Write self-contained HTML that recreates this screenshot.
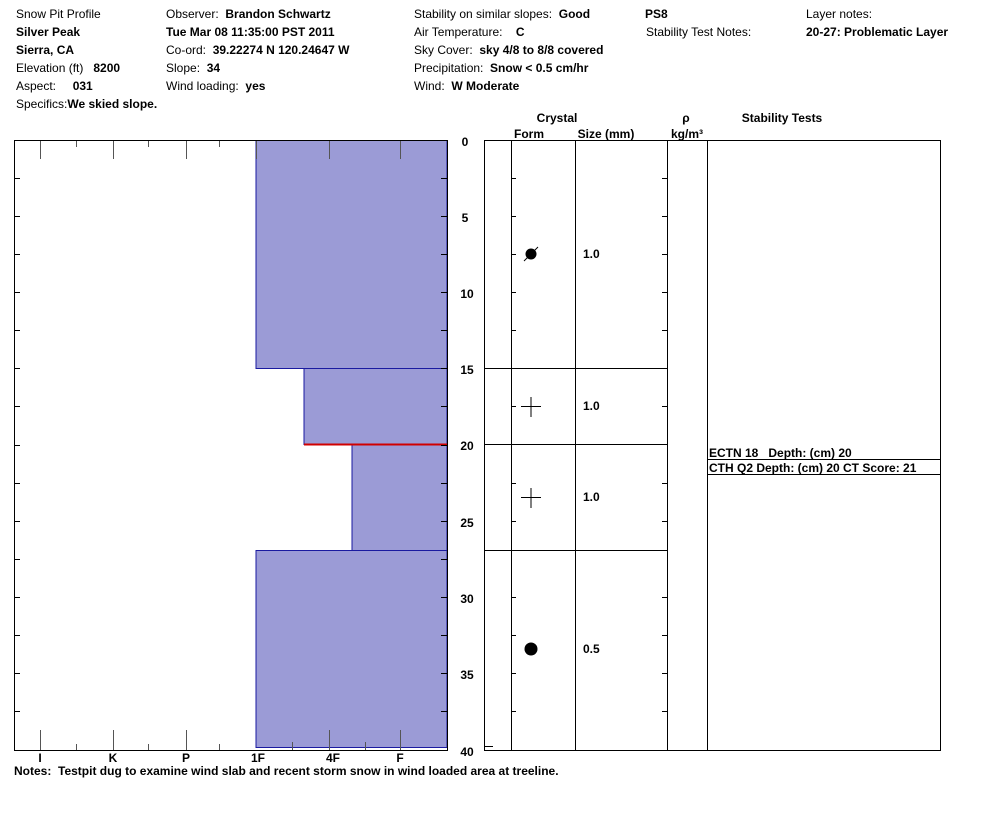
<!DOCTYPE html>
<html><head><meta charset="utf-8"><style>
body{margin:0;background:#fff;}
svg{display:block;font-family:"Liberation Sans",Arial,sans-serif;font-size:12px;}
text{white-space:pre;}
.b{font-weight:bold;}
</style></head><body>
<svg width="994" height="840" xmlns="http://www.w3.org/2000/svg">
<g fill="#000">
<text x="16" y="18">Snow Pit Profile</text>
<text x="16" y="36" class="b">Silver Peak</text>
<text x="16" y="54" class="b">Sierra, CA</text>
<text x="16" y="72">Elevation (ft)   <tspan class="b">8200</tspan></text>
<text x="16" y="90">Aspect:     <tspan class="b">031</tspan></text>
<text x="16" y="108">Specifics:<tspan class="b">We skied slope.</tspan></text>
<text x="166" y="18">Observer:  <tspan class="b">Brandon Schwartz</tspan></text>
<text x="166" y="36" class="b">Tue Mar 08 11:35:00 PST 2011</text>
<text x="166" y="54">Co-ord:  <tspan class="b">39.22274 N 120.24647 W</tspan></text>
<text x="166" y="72">Slope:  <tspan class="b">34</tspan></text>
<text x="166" y="90">Wind loading:  <tspan class="b">yes</tspan></text>
<text x="414" y="18">Stability on similar slopes:  <tspan class="b">Good</tspan></text>
<text x="414" y="36">Air Temperature:    <tspan class="b">C</tspan></text>
<text x="414" y="54">Sky Cover:  <tspan class="b">sky 4/8 to 8/8 covered</tspan></text>
<text x="414" y="72">Precipitation:  <tspan class="b">Snow &lt; 0.5 cm/hr</tspan></text>
<text x="414" y="90">Wind:  <tspan class="b">W Moderate</tspan></text>
<text x="645" y="18" class="b">PS8</text>
<text x="646" y="36">Stability Test Notes:</text>
<text x="806" y="18">Layer notes:</text>
<text x="806" y="36" class="b">20-27: Problematic Layer</text>
</g>
<g fill="#9b9bd6" stroke="#1a1aa0" stroke-width="1">
<rect x="256" y="140.5" width="191" height="228"/>
<rect x="304" y="368.5" width="143" height="76"/>
<rect x="352" y="444.5" width="95" height="106"/>
<rect x="256" y="550.5" width="191" height="197"/>
</g>
<line x1="304" y1="444.5" x2="447" y2="444.5" stroke="#d00000" stroke-width="2"/>
<rect x="14.5" y="140.5" width="433" height="610" fill="none" stroke="#000"/>
<g stroke="#555" stroke-width="1">
<path d="M40.5 141v18M113.5 141v18M186.5 141v18M256.5 141v18M329.5 141v18M400.5 141v18M40.5 730v20M113.5 730v20M186.5 730v20M329.5 730v20M400.5 730v20"/>
<path d="M76.5 744v6M148.5 744v6M219.5 744v6M292.5 742v8M365.5 742v8M76.5 141v6M148.5 141v6M219.5 141v6"/>
</g>
<g stroke="#000"><path d="M15 178.5h5M15 216.5h5M15 254.5h5M15 292.5h5M15 330.5h5M15 368.5h5M15 406.5h5M15 445.5h5M15 483.5h5M15 521.5h5M15 559.5h5M15 597.5h5M15 635.5h5M15 673.5h5M15 711.5h5M441 178.5h6M441 216.5h6M441 254.5h6M441 292.5h6M441 330.5h6M441 368.5h6M441 406.5h6M441 445.5h6M441 483.5h6M441 521.5h6M441 559.5h6M441 597.5h6M441 635.5h6M441 673.5h6M441 711.5h6"/></g>
<g class="b" fill="#000">
<text x="40" y="762" text-anchor="middle">I</text>
<text x="113" y="762" text-anchor="middle">K</text>
<text x="186" y="762" text-anchor="middle">P</text>
<text x="258" y="762" text-anchor="middle">1F</text>
<text x="333" y="762" text-anchor="middle">4F</text>
<text x="400" y="762" text-anchor="middle">F</text>
<text x="14" y="775">Notes:  Testpit dug to examine wind slab and recent storm snow in wind loaded area at treeline.</text>
<text x="465" y="146" text-anchor="middle">0</text>
<text x="465" y="222" text-anchor="middle">5</text>
<text x="467" y="298" text-anchor="middle">10</text>
<text x="467" y="374" text-anchor="middle">15</text>
<text x="467" y="450" text-anchor="middle">20</text>
<text x="467" y="527" text-anchor="middle">25</text>
<text x="467" y="603" text-anchor="middle">30</text>
<text x="467" y="679" text-anchor="middle">35</text>
<text x="467" y="756" text-anchor="middle">40</text>
<text x="557" y="122" text-anchor="middle">Crystal</text>
<text x="529" y="138" text-anchor="middle">Form</text>
<text x="606" y="138" text-anchor="middle">Size (mm)</text>
<text x="686" y="122" text-anchor="middle">ρ</text>
<text x="687" y="138" text-anchor="middle">kg/m³</text>
<text x="782" y="122" text-anchor="middle">Stability Tests</text>
<text x="583" y="258">1.0</text>
<text x="583" y="410">1.0</text>
<text x="583" y="501">1.0</text>
<text x="583" y="653">0.5</text>
<text x="709" y="457">ECTN 18   Depth: (cm) 20</text>
<text x="709" y="472">CTH Q2 Depth: (cm) 20 CT Score: 21</text>
</g>
<g stroke="#000" fill="none">
<rect x="484.5" y="140.5" width="456" height="610"/>
<path d="M511.5 140v611M575.5 140v611M667.5 140v611M707.5 140v611"/>
<path d="M484 368.5h183M484 444.5h183M484 550.5h183M707 459.5h234M707 474.5h234M484 746.5h9"/>
<path d="M511 178.5h5M511 216.5h5M511 254.5h5M511 292.5h5M511 330.5h5M511 406.5h5M511 483.5h5M511 521.5h5M511 597.5h5M511 635.5h5M511 673.5h5M511 711.5h5M662 178.5h5M662 216.5h5M662 254.5h5M662 292.5h5M662 330.5h5M662 406.5h5M662 483.5h5M662 521.5h5M662 597.5h5M662 635.5h5M662 673.5h5M662 711.5h5"/>
<path d="M524 261l14-14"/>
<path d="M531 397v20M521 406.5h20M531 488v20M521 497.5h20"/>
</g>
<circle cx="531" cy="254" r="5.5" fill="#000"/>
<circle cx="531" cy="649" r="6.5" fill="#000"/>
</svg>
</body></html>
